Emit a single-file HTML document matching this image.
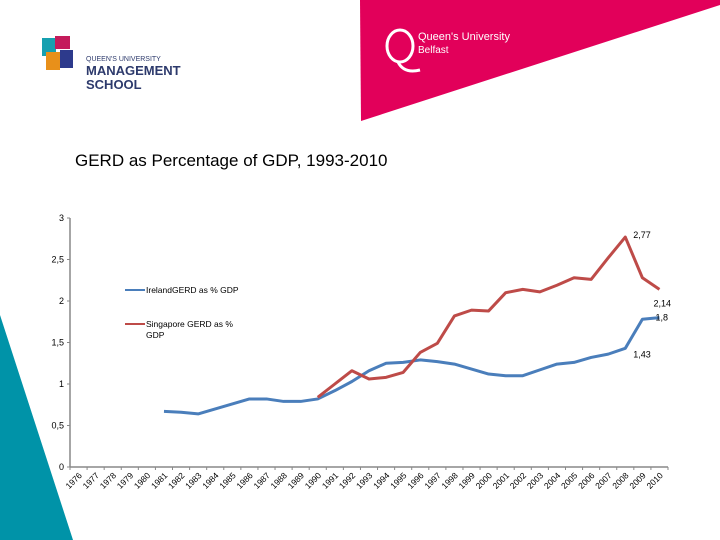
<!DOCTYPE html>
<html><head><meta charset="utf-8"><style>
body{margin:0;background:#fff;}
svg{display:block;font-family:"Liberation Sans",sans-serif;}
</style></head><body>
<svg width="720" height="540">
<polygon points="360,0 720,0 720,5 361,121" fill="#e2005a"/>
<g>
<ellipse cx="400" cy="46" rx="13" ry="16" fill="none" stroke="#fff" stroke-width="3"/>
<path d="M398,62 Q404,74 420,70" stroke="#fff" stroke-width="3" fill="none"/>
<text x="418" y="40" font-size="11" fill="#fff">Queen's University</text>
<text x="418" y="53" font-size="10" fill="#fff">Belfast</text>
</g>
<g>
<rect x="42" y="38" width="14" height="18" fill="#16a0b0"/>
<rect x="55" y="36" width="15" height="13" fill="#c41b5b"/>
<rect x="46" y="52" width="14" height="18" fill="#e8901a"/>
<rect x="60" y="50" width="13" height="18" fill="#2d3a8c"/>
<text x="86" y="61" font-size="7" fill="#2d3a6c">QUEEN'S UNIVERSITY</text>
<text x="86" y="75" font-size="13" font-weight="bold" fill="#2d3a6c">MANAGEMENT</text>
<text x="86" y="89" font-size="13" font-weight="bold" fill="#2d3a6c">SCHOOL</text>
</g>
<polygon points="0,315 73,540 0,540" fill="#0093a8"/>
<text x="75" y="166" font-size="17" fill="#000">GERD as Percentage of GDP, 1993-2010</text>
<g id="chart"></g>
<g>
<line x1="125" y1="290" x2="145" y2="290" stroke="#4a7ebb" stroke-width="2"/>
<text x="146" y="293" font-size="8.5">IrelandGERD as % GDP</text>
<line x1="125" y1="324" x2="145" y2="324" stroke="#be4b48" stroke-width="2"/>
<text x="146" y="327" font-size="8.5">Singapore GERD as %</text>
<text x="146" y="338" font-size="8.5">GDP</text>
</g>
</svg>
<script>
const years=[];for(let y=1976;y<=2010;y++)years.push(y);
const ireland=[null,null,null,null,null,0.67,0.66,0.64,0.70,0.76,0.82,0.82,0.79,0.79,0.82,0.92,1.03,1.16,1.25,1.26,1.29,1.27,1.24,1.18,1.12,1.10,1.10,1.17,1.24,1.26,1.32,1.36,1.43,1.78,1.80];
const singapore=[null,null,null,null,null,null,null,null,null,null,null,null,null,null,0.84,1.00,1.16,1.06,1.08,1.14,1.38,1.49,1.82,1.89,1.88,2.10,2.14,2.11,2.19,2.28,2.26,2.52,2.77,2.28,2.14];
const yTicks=[0,0.5,1,1.5,2,2.5,3];
const yTickLabels=["0","0,5","1","1,5","2","2,5","3"];
const labels=[{s:"s",i:32,t:"2,77",dx:8,dy:-2},{s:"s",i:34,t:"2,14",dx:-6,dy:14},{s:"i",i:34,t:"1,8",dx:-4,dy:0},{s:"i",i:32,t:"1,43",dx:8,dy:6}];
const X0=70,X1=668,Y0=467,Y3=218;
const bw=(X1-X0)/years.length;
const xs=i=>X0+bw*(i+0.5);
const ys=v=>Y0-(v/3)*(Y0-Y3);
const NS="http://www.w3.org/2000/svg";
const g=document.getElementById('chart');
function mk(t,a){const e=document.createElementNS(NS,t);for(const k in a)e.setAttribute(k,a[k]);g.appendChild(e);return e;}
let ax=mk('line',{x1:X0,y1:Y3,x2:X0,y2:Y0,stroke:'#888','stroke-width':1.5});


let bx=mk('line',{x1:X0,y1:Y0,x2:X1,y2:Y0,stroke:'#888','stroke-width':1.5});


yTicks.forEach((v,k)=>{
 mk('line',{x1:X0-3,y1:ys(v),x2:X0,y2:ys(v),stroke:'#888'});
 const t=mk('text',{x:X0-6,y:ys(v)+3,'font-size':9,'text-anchor':'end'});
 t.textContent=yTickLabels[k];
 
 
});
years.forEach((y,i)=>{
 const x=X0+bw*(i+1);
 mk('line',{x1:x,y1:Y0,x2:x,y2:Y0+3,stroke:'#888'});
 const cx=xs(i)+4;
 const t=mk('text',{x:cx,y:Y0+9,'font-size':8.5,'text-anchor':'end',transform:`rotate(-45 ${cx} ${Y0+9})`});
 t.textContent=y;
 
 
});
mk('line',{x1:X0,y1:Y0,x2:X0,y2:Y0+3,stroke:'#888'});
function series(arr,col,name){
 let d='';arr.forEach((v,i)=>{if(v==null)return;d+=(d?'L':'M')+xs(i)+','+ys(v);});
 const p=mk('path',{d:d,fill:'none',stroke:col,'stroke-width':3,'stroke-linejoin':'round'});
 
 
}
series(ireland,'#4a7ebb','ireland-line');
series(singapore,'#be4b48','singapore-line');
labels.forEach(l=>{
 const v=(l.s==='s'?singapore:ireland)[l.i];
 const t=mk('text',{x:xs(l.i)+l.dx,y:ys(v)+l.dy+3,'font-size':9});
 t.textContent=l.t;
 
 
});
</script>
</body></html>
